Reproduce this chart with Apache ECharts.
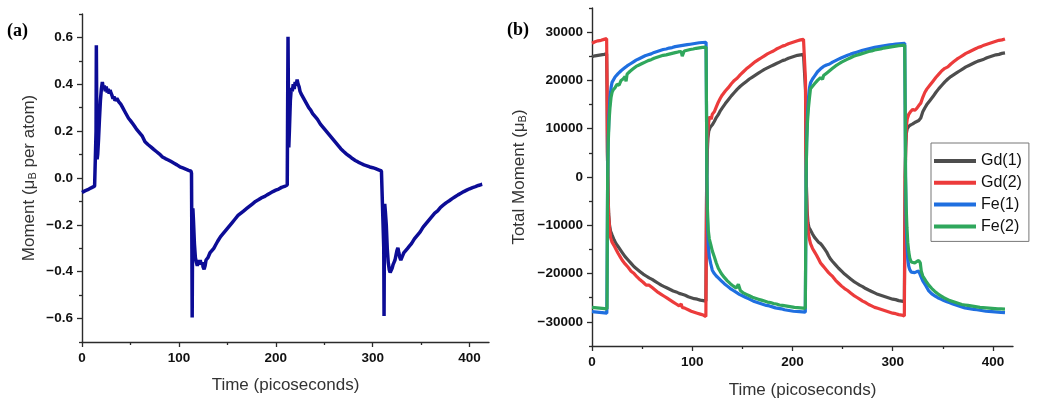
<!DOCTYPE html>
<html>
<head>
<meta charset="utf-8">
<script src="https://cdn.jsdelivr.net/npm/echarts@6/dist/echarts.min.js"></script>
<style>html,body{margin:0;padding:0;background:#fff}#c{width:1058px;height:406px}</style>
</head>
<body>
<div id="c"></div>
<script>
// ---------- Panel (a): moment per atom ----------
const momentA = [
[0,-0.062],[3,-0.055],[6,-0.05],[9,-0.043],[11,-0.04],[13,-0.035],[14.3,-0.032],[14.5,0.2],[14.8,0.567],[15.2,0.3],[15.6,0.08],[16.2,0.1],[17,0.16],[18,0.25],[19,0.33],[20,0.38],[21,0.41],[22,0.38],[23,0.395],[24,0.37],[25,0.39],[26,0.365],[27,0.38],[28,0.36],[29,0.375],[30,0.362],[31,0.352],[32,0.338],[33,0.348],[34,0.33],[36,0.34],[38,0.325],[40,0.315],[42,0.3],[44,0.285],[46,0.27],[48,0.255],[50,0.245],[53,0.228],[56,0.21],[59,0.195],[62,0.18],[65,0.155],[68,0.143],[71,0.133],[74,0.122],[77,0.112],[80,0.102],[83,0.09],[86,0.083],[89,0.077],[92,0.07],[95,0.063],[98,0.056],[101,0.048],[104,0.043],[107,0.038],[110,0.033],[112.5,0.029],[113,0.02],[113.4,-0.3],[113.7,-0.595],[114,-0.35],[114.4,-0.13],[115,-0.18],[116,-0.28],[117,-0.34],[118,-0.36],[119,-0.375],[120,-0.35],[121,-0.37],[122,-0.35],[123,-0.37],[124,-0.36],[125,-0.38],[126,-0.39],[127,-0.375],[128,-0.35],[130,-0.34],[132,-0.32],[134,-0.31],[136,-0.3],[138,-0.285],[140,-0.27],[143,-0.25],[146,-0.235],[149,-0.22],[152,-0.205],[155,-0.19],[158,-0.175],[161,-0.16],[164,-0.15],[167,-0.14],[170,-0.13],[173,-0.12],[176,-0.11],[179,-0.1],[182,-0.093],[185,-0.085],[188,-0.08],[191,-0.072],[194,-0.065],[197,-0.058],[200,-0.052],[203,-0.047],[206,-0.04],[209,-0.036],[211.8,-0.03],[212.2,0.3],[212.6,0.603],[213,0.35],[213.4,0.13],[214,0.2],[215,0.33],[216,0.385],[217,0.37],[218,0.4],[219,0.38],[220,0.41],[221,0.395],[222,0.42],[223,0.4],[224,0.39],[225,0.37],[226,0.36],[228,0.345],[230,0.33],[232,0.315],[234,0.3],[236,0.29],[238,0.275],[240,0.265],[243,0.25],[246,0.23],[249,0.215],[252,0.2],[255,0.185],[258,0.17],[261,0.155],[264,0.14],[267,0.125],[270,0.113],[273,0.102],[276,0.093],[279,0.083],[282,0.075],[285,0.068],[288,0.062],[291,0.056],[294,0.052],[297,0.047],[300,0.044],[303,0.04],[306,0.035],[309,0.03],[311,0.026],[311.4,-0.3],[311.7,-0.589],[312,-0.3],[312.4,-0.11],[313,-0.14],[314,-0.2],[315,-0.3],[316,-0.36],[317,-0.39],[318,-0.403],[319,-0.4],[320,-0.385],[321,-0.37],[322,-0.36],[323,-0.35],[324,-0.33],[325,-0.31],[326,-0.298],[327,-0.32],[328,-0.34],[329,-0.35],[330,-0.345],[331,-0.33],[332,-0.32],[334,-0.31],[336,-0.3],[338,-0.29],[340,-0.28],[343,-0.26],[346,-0.245],[349,-0.23],[352,-0.21],[355,-0.195],[358,-0.18],[361,-0.165],[364,-0.15],[367,-0.14],[370,-0.125],[373,-0.115],[376,-0.105],[379,-0.097],[382,-0.088],[385,-0.08],[388,-0.072],[391,-0.065],[394,-0.058],[397,-0.052],[400,-0.046],[403,-0.041],[406,-0.037],[409,-0.032],[412,-0.028],[413,-0.027]
];

// ---------- Panel (b): total moments ----------
const gd1 = [
[0,24900],[3,25100],[6,25200],[9,25300],[12,25400],[14.6,25500],[15,18000],[15.4,5000],[16,-3000],[16.6,-7500],[17.5,-10000],[18.5,-11200],[20,-12000],[22,-13000],[24,-13800],[26,-14400],[28,-15000],[30,-15600],[33,-16500],[36,-17200],[39,-17900],[42,-18600],[45,-19100],[48,-19600],[51,-20100],[54,-20500],[57,-20900],[60,-21200],[63,-21600],[66,-22000],[69,-22400],[72,-22700],[75,-23000],[78,-23300],[81,-23600],[84,-23800],[87,-24100],[90,-24300],[93,-24500],[96,-24800],[99,-25000],[102,-25200],[105,-25300],[108,-25500],[111,-25600],[113.6,-25700],[114,-12000],[114.4,0],[115,5000],[115.6,8000],[116.5,9500],[118,10300],[120,10800],[122,11500],[124,12300],[126,12900],[128,13700],[130,14300],[133,15200],[136,16000],[139,16800],[142,17500],[145,18200],[148,18800],[151,19300],[154,19800],[157,20300],[160,20700],[163,21100],[166,21500],[169,21900],[172,22300],[175,22600],[178,22900],[181,23200],[184,23500],[187,23800],[190,24100],[193,24300],[196,24600],[199,24800],[202,25000],[205,25200],[208,25300],[211,25400],[212.6,25600],[213,18000],[213.4,5000],[214,-3000],[214.6,-7000],[215.5,-9500],[216.5,-10500],[218,-11000],[220,-11800],[222,-12500],[224,-13000],[226,-13500],[228,-13800],[230,-14300],[232,-14900],[234,-15500],[236,-16300],[238,-17000],[240,-17500],[243,-18200],[246,-18900],[249,-19500],[252,-20100],[255,-20600],[258,-21100],[261,-21600],[264,-22000],[267,-22400],[270,-22700],[273,-23100],[276,-23400],[279,-23700],[282,-24000],[285,-24300],[288,-24500],[291,-24700],[294,-24900],[297,-25100],[300,-25300],[303,-25400],[306,-25600],[309,-25700],[311.6,-25800],[312,-12000],[312.4,0],[313,6000],[313.6,9000],[314.5,10000],[316,10500],[318,10800],[320,11000],[322,11300],[324,11500],[326,11700],[328,12200],[330,13500],[332,14300],[334,15000],[337,15800],[340,16600],[343,17500],[346,18300],[349,19000],[352,19700],[355,20300],[358,20800],[361,21200],[364,21600],[367,22000],[370,22400],[373,22800],[376,23100],[379,23400],[382,23700],[385,24000],[388,24200],[391,24400],[394,24700],[397,24900],[400,25100],[403,25300],[406,25400],[409,25600],[412,25700]
];
const gd2 = [
[0,27700],[3,28000],[6,28200],[9,28300],[12,28500],[14.6,28650],[15,20000],[15.4,5000],[16,-3000],[16.6,-8000],[17.5,-10500],[18.5,-12500],[20,-13500],[22,-14200],[24,-15000],[26,-15800],[28,-16500],[30,-17200],[33,-18000],[36,-18700],[39,-19500],[42,-20000],[45,-20700],[48,-21300],[51,-21800],[54,-22400],[57,-22400],[60,-22900],[63,-23400],[66,-23900],[69,-24300],[72,-24700],[75,-25100],[78,-25500],[81,-25900],[84,-26300],[87,-26700],[89,-26300],[90,-27000],[93,-27200],[96,-27500],[99,-27800],[102,-28000],[105,-28200],[108,-28400],[111,-28600],[113.6,-28900],[114,-15000],[114.4,0],[115,6000],[115.6,9500],[116.5,11500],[117.5,12500],[119,12000],[120,13000],[122,13500],[124,14500],[126,15500],[128,16300],[130,17000],[133,17800],[136,18500],[139,19300],[142,20000],[145,20500],[148,21200],[151,21800],[154,22400],[157,22900],[160,23400],[163,23900],[166,24300],[169,24700],[172,25100],[175,25500],[178,25800],[181,26100],[184,26500],[187,26800],[190,27100],[193,27300],[196,27600],[199,27800],[202,28000],[205,28200],[208,28400],[211,28500],[212.6,28700],[213,20000],[213.4,5000],[214,-3000],[214.6,-8500],[215.5,-11000],[216.5,-12500],[218,-13800],[220,-14800],[222,-15500],[224,-16200],[226,-17000],[228,-17800],[230,-18300],[232,-18800],[234,-19300],[236,-19800],[238,-20200],[240,-20600],[243,-21400],[246,-22000],[249,-22600],[252,-23100],[255,-23500],[258,-24000],[261,-24500],[264,-24900],[267,-25300],[270,-25700],[273,-26000],[276,-26400],[279,-26700],[282,-27000],[285,-27200],[288,-27400],[291,-27600],[294,-27800],[297,-28000],[300,-28200],[303,-28300],[306,-28500],[309,-28600],[311.6,-28800],[312,-15000],[312.4,0],[313,7000],[313.6,10500],[314.5,12000],[316,13000],[318,13600],[320,14000],[322,13800],[324,14200],[326,14800],[328,15300],[330,16500],[332,17500],[334,18200],[337,19000],[340,19800],[343,20600],[346,21300],[349,22000],[352,22500],[355,22800],[358,23400],[361,23900],[364,24400],[367,24800],[370,25200],[373,25600],[376,25900],[379,26200],[382,26500],[385,26800],[388,27000],[391,27300],[394,27500],[397,27700],[400,27900],[403,28100],[406,28300],[409,28400],[412,28600]
];
const fe1 = [
[0,-27900],[5,-28000],[10,-28100],[14.8,-28200],[15.2,-15000],[15.6,0],[16.2,8000],[17,13000],[18,16500],[19,18500],[20,19600],[21,20000],[23,20700],[26,21400],[29,22000],[32,22500],[35,23000],[38,23400],[41,23800],[44,24200],[47,24500],[50,24800],[53,25100],[56,25300],[59,25500],[62,25800],[65,26000],[68,26200],[71,26400],[74,26500],[77,26700],[80,26800],[83,27000],[86,27100],[89,27200],[92,27300],[95,27400],[98,27500],[101,27600],[104,27700],[107,27800],[110,27850],[113.8,27900],[114.2,15000],[114.6,0],[115.2,-9000],[116,-14000],[117,-16500],[118.5,-18000],[120,-19300],[122,-20000],[124,-20500],[126,-20900],[129,-21500],[132,-22100],[135,-22600],[138,-23100],[141,-23500],[144,-23900],[147,-24300],[150,-24600],[153,-24900],[156,-25200],[159,-25500],[162,-25800],[165,-26000],[168,-26200],[171,-26400],[174,-26600],[177,-26700],[180,-26900],[183,-27100],[186,-27200],[189,-27300],[192,-27500],[195,-27600],[198,-27700],[201,-27800],[204,-27850],[207,-27900],[210,-27950],[212.8,-28000],[213.2,-15000],[213.6,0],[214.2,8000],[215,13000],[216,16500],[217,18500],[218,19500],[220,20300],[222,20900],[225,21800],[228,22400],[231,22900],[234,23200],[237,23400],[240,23800],[243,24100],[246,24400],[249,24700],[252,24950],[255,25200],[258,25450],[261,25650],[264,25850],[267,26050],[270,26250],[273,26400],[276,26550],[279,26700],[282,26850],[285,26950],[288,27050],[291,27150],[294,27250],[297,27350],[300,27450],[303,27550],[306,27600],[309,27650],[312,27700],[312.4,15000],[312.8,0],[313.4,-9000],[314.2,-14000],[315,-17000],[316,-18500],[317,-19200],[318.5,-19700],[320,-20000],[322,-19800],[324,-19600],[326,-19500],[327.5,-19800],[328.5,-20800],[330,-21500],[333,-22500],[336,-23600],[339,-24200],[342,-24600],[345,-25000],[348,-25300],[351,-25600],[354,-25850],[357,-26050],[360,-26300],[363,-26500],[366,-26700],[369,-26900],[372,-27100],[375,-27200],[378,-27300],[381,-27400],[384,-27500],[387,-27600],[390,-27700],[393,-27800],[396,-27850],[399,-27900],[402,-27950],[405,-28000],[408,-28050],[412,-28100]
];
const fe2 = [
[0,-27000],[5,-27100],[10,-27200],[15,-27300],[15.2,-15000],[15.6,0],[16.2,7000],[17,11500],[18,14500],[19,16500],[20,17500],[21,18000],[23,18500],[25,19200],[27,19000],[29,20000],[31,20300],[33,20800],[34,19800],[35,21300],[38,21900],[41,22400],[44,22900],[47,23200],[50,23500],[53,23800],[56,24100],[59,24300],[62,24600],[65,24800],[68,25000],[71,25200],[74,25300],[77,25450],[80,25600],[83,25750],[86,25900],[89,26000],[90,25000],[92,26100],[95,26250],[98,26400],[101,26500],[104,26650],[107,26750],[110,26850],[113.8,26900],[114.2,15000],[114.6,0],[115.2,-7000],[116,-11000],[117,-12800],[118.5,-14000],[120,-15300],[122,-16500],[124,-17800],[126,-18900],[129,-20000],[132,-20800],[135,-21500],[138,-22100],[141,-22600],[144,-23000],[146,-22200],[148,-23500],[151,-24000],[154,-24300],[157,-24600],[160,-24900],[163,-25100],[166,-25300],[169,-25500],[172,-25700],[175,-25900],[178,-26000],[181,-26200],[184,-26300],[187,-26500],[190,-26600],[193,-26700],[196,-26800],[199,-26900],[202,-27000],[205,-27050],[208,-27100],[212.8,-27200],[213.2,-15000],[213.6,0],[214.2,7000],[215,11500],[216,14500],[217,16500],[218,18300],[220,18800],[222,19300],[225,20000],[228,20600],[230,20200],[231,21000],[234,21500],[237,22000],[240,22500],[243,23000],[246,23400],[249,23800],[252,24100],[255,24400],[258,24700],[261,25000],[264,25200],[267,25400],[270,25600],[273,25800],[276,26000],[279,26100],[282,26300],[285,26400],[288,26500],[291,26700],[294,26800],[297,26900],[300,27000],[303,27100],[306,27200],[309,27250],[312,27300],[312.4,15000],[312.8,0],[313.4,-6000],[314.2,-10500],[315,-13500],[316,-15500],[317,-16800],[318.5,-17600],[320,-18000],[322,-17800],[324,-17500],[326,-17300],[327.5,-17800],[328.5,-19500],[330,-20500],[333,-21500],[336,-22400],[339,-23100],[342,-23700],[345,-24200],[348,-24600],[351,-25000],[354,-25300],[357,-25600],[360,-25800],[363,-26000],[366,-26200],[369,-26400],[372,-26500],[375,-26600],[378,-26700],[381,-26800],[384,-26900],[387,-27000],[390,-27050],[393,-27100],[396,-27150],[399,-27200],[402,-27250],[405,-27300],[408,-27300],[412,-27350]
];

const seriesNames = ['Gd(1)','Gd(2)','Fe(1)','Fe(2)'];
const seriesColors = ['#4d4d4d','#ec3b3b','#1f6fe0','#2fa75c'];
const timeTicks = [0,100,200,300,400];
const timeMinor = [50,150,250,350];
const momentTicks = [-0.6,-0.4,-0.2,0,0.2,0.4,0.6];
const momentMinor = [-0.7,-0.5,-0.3,-0.1,0.1,0.3,0.5,0.7];
const totalTicks = [-30000,-20000,-10000,0,10000,20000,30000];
const totalMinor = [-35000,-25000,-15000,-5000,5000,15000,25000,35000];

const AX = '#2b2b2b';
const tickFont = {color:'#111', fontFamily:'Liberation Sans, Arial, sans-serif', fontWeight:'bold', fontSize:13.5};
const titleFont = {color:'#333', fontFamily:'Liberation Sans, Arial, sans-serif', fontSize:17,
  rich:{sub:{fontSize:11, verticalAlign:'bottom', color:'#333', fontFamily:'Liberation Sans, Arial, sans-serif', padding:[6,0,0,0]}}};
const minus = s => String(s).replace('-','\u2212');

function mainX(grid, name, gap){
  return {type:'value', gridIndex:grid, min:0, max:420, position:'bottom',
    name:name, nameLocation:'middle', nameGap:gap, nameTextStyle:titleFont,
    axisLine:{show:true, onZero:false, lineStyle:{color:AX, width:1.4}},
    axisTick:{show:true, customValues:timeTicks, length:5, lineStyle:{color:AX, width:1.3}},
    axisLabel:{customValues:timeTicks, margin:9, ...tickFont},
    splitLine:{show:false}};
}
function minorX(grid){
  return {type:'value', gridIndex:grid, min:0, max:420, position:'bottom', offset:0,
    axisLine:{show:false, onZero:false}, axisLabel:{show:false}, splitLine:{show:false},
    axisTick:{show:true, customValues:timeMinor, length:3, lineStyle:{color:AX, width:1.3}}};
}
function mainY(grid, mn, mx, ticks, fmt, name, gap){
  return {type:'value', gridIndex:grid, min:mn, max:mx, position:'left',
    name:name, nameLocation:'middle', nameGap:gap, nameRotate:90, nameTextStyle:titleFont,
    axisLine:{show:true, onZero:false, lineStyle:{color:AX, width:1.4}},
    axisTick:{show:true, customValues:ticks, length:5, lineStyle:{color:AX, width:1.3}},
    axisLabel:{customValues:ticks, margin:9, formatter:fmt, ...tickFont},
    splitLine:{show:false}};
}
function minorY(grid, mn, mx, ticks){
  return {type:'value', gridIndex:grid, min:mn, max:mx, position:'left', offset:0,
    axisLine:{show:false, onZero:false}, axisLabel:{show:false}, splitLine:{show:false},
    axisTick:{show:true, customValues:ticks, length:3, lineStyle:{color:AX, width:1.3}}};
}

const chart = echarts.init(document.getElementById('c'), null, {renderer:'canvas'});
const rightSeries = seriesNames.map((n,i)=>({
  name:n, type:'line', xAxisIndex:2, yAxisIndex:2, symbol:'none', showSymbol:false,
  data:[gd1,gd2,fe1,fe2][i], lineStyle:{color:seriesColors[i], width:3.2}, itemStyle:{color:seriesColors[i]},
  animation:false, z:2+i
}));

chart.setOption({
  animation:false,
  backgroundColor:'#fff',
  grid:[
    {left:82, top:14, width:407, height:328},
    {left:592, top:8, width:421, height:338}
  ],
  xAxis:[ mainX(0,'Time (picoseconds)',35), minorX(0), mainX(1,'Time (picoseconds)',36), minorX(1) ],
  yAxis:[
    mainY(0,-0.7,0.7,momentTicks,v=>minus(Number(v).toFixed(1)),'Moment (\u03bc{sub|B} per atom)',44),
    minorY(0,-0.7,0.7,momentMinor),
    mainY(1,-35000,35000,totalTicks,v=>minus(Math.round(v)),'Total Moment (\u03bc{sub|B})',64),
    minorY(1,-35000,35000,totalMinor)
  ],
  legend:{
    data:seriesNames.map(n=>({name:n, icon:'rect'})), orient:'vertical', left:931, top:143,
    itemWidth:42, itemHeight:4, itemGap:5.8, padding:[10,7,7,3],
    borderColor:'#777', borderWidth:1, borderRadius:0,
    textStyle:{color:'#111', fontSize:16, lineHeight:16, fontFamily:'Liberation Sans, Arial, sans-serif'}
  },
  graphic:[
    {type:'text', left:7, top:22, style:{text:'(a)', font:'bold 18px "Liberation Serif", "Times New Roman", serif', fill:'#000'}},
    {type:'text', left:507, top:21, style:{text:'(b)', font:'bold 18px "Liberation Serif", "Times New Roman", serif', fill:'#000'}}
  ],
  series:[
    {name:'moment', type:'line', xAxisIndex:0, yAxisIndex:0, symbol:'none', showSymbol:false,
     data:momentA, lineStyle:{color:'#0c0c96', width:3.5}, animation:false}
  ].concat(rightSeries)
});
</script>
</body>
</html>
